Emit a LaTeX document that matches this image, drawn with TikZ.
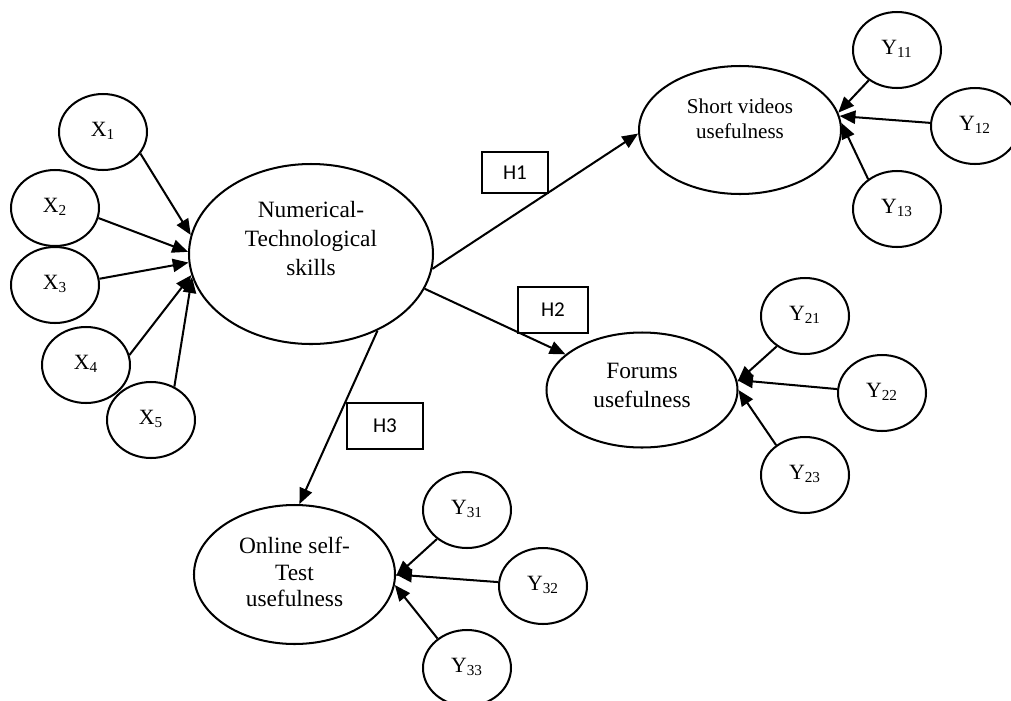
\documentclass[tikz,border=0pt]{standalone}
\usepackage{fontspec}
\setmainfont{Liberation Serif}
\newfontfamily\hypfont{Carlito}
\usetikzlibrary{shapes.geometric,arrows.meta}
\tikzstyle{construct}=[ellipse,draw,line width=1.15pt,align=center,inner sep=0pt,font=\fontsize{13.3}{16.4}\selectfont]
\tikzstyle{indicator}=[ellipse,draw,line width=1.15pt,minimum width=1.76cm,minimum height=1.52cm,inner sep=0pt,text depth=0.12cm,font=\fontsize{12.4}{14}\selectfont]
\tikzstyle{hyp}=[rectangle,draw,line width=1.15pt,inner sep=0pt,font={\hypfont\fontsize{12}{14}\selectfont}]
\tikzstyle{link}=[line width=1.15pt,-{Triangle[length=9pt,width=7.5pt]}]

\begin{document}
\begin{tikzpicture}
\useasboundingbox (0,0) rectangle (20.22,-14.02);
\node[construct, minimum width=4.88cm, minimum height=3.6cm, text depth=0.62cm] (skills) at (6.22,-5.08) {Numerical-\\Technological\\skills};
\node[construct, minimum width=4.04cm, minimum height=2.56cm, font=\fontsize{12}{14.2}\selectfont, text depth=0.46cm] (videos) at (14.8,-2.6) {Short videos\\usefulness};
\node[construct, minimum width=3.82cm, minimum height=2.3cm, text depth=0.2cm] (forums) at (12.84,-7.8) {Forums\\usefulness};
\node[construct, minimum width=4.02cm, minimum height=2.78cm, font=\fontsize{13.3}{15}\selectfont, text depth=0.1cm] (selftest) at (5.89,-11.49) {Online self-\\Test\\usefulness};

% measured items
\node[indicator] (x1) at (2.06,-2.64) {X\textsubscript{1}};
\node[indicator] (x2) at (1.1,-4.16) {X\textsubscript{2}};
\node[indicator] (x3) at (1.1,-5.7) {X\textsubscript{3}};
\node[indicator] (x4) at (1.72,-7.3) {X\textsubscript{4}};
\node[indicator] (x5) at (3.02,-8.4) {X\textsubscript{5}};
\node[indicator] (y11) at (17.94,-1.0) {Y\textsubscript{11}};
\node[indicator] (y12) at (19.5,-2.52) {Y\textsubscript{12}};
\node[indicator] (y13) at (17.94,-4.18) {Y\textsubscript{13}};
\node[indicator] (y21) at (16.1,-6.32) {Y\textsubscript{21}};
\node[indicator] (y22) at (17.64,-7.86) {Y\textsubscript{22}};
\node[indicator] (y23) at (16.1,-9.5) {Y\textsubscript{23}};
\node[indicator] (y31) at (9.34,-10.2) {Y\textsubscript{31}};
\node[indicator] (y32) at (10.86,-11.72) {Y\textsubscript{32}};
\node[indicator] (y33) at (9.34,-13.36) {Y\textsubscript{33}};

% hypotheses
\node[hyp, minimum width=1.32cm, minimum height=0.82cm] (h1) at (10.3,-3.45) {H1};
\node[hyp, minimum width=1.4cm, minimum height=0.92cm] (h2) at (11.06,-6.2) {H2};
\node[hyp, minimum width=1.52cm, minimum height=0.92cm] (h3) at (7.7,-8.52) {H3};

\draw[link] (x1.-30) -- (skills.171);
\draw[link] (x2.-13) -- (skills.179);
\draw[link] (x3.8) -- (skills.184);
\draw[link] (x4.13) -- (skills.190);
\draw[link] (x5.55) -- (skills.191);

\draw[link] (skills.-7) -- (videos.182);
\draw[link] (skills.-17) -- (forums.155);
\draw[link] (skills.-49) -- (selftest.86);

\draw[link] (y11.227) -- (videos.10);
\draw[link] (y12.176) -- (videos.8);
\draw[link] (y13.134) -- (videos.4);
\draw[link] (y21.227) -- (forums.5);
\draw[link] (y22.175) -- (forums.6);
\draw[link] (y23.134) -- (forums.0);
\draw[link] (y31.224) -- (selftest.-1);
\draw[link] (y32.175) -- (selftest.0);
\draw[link] (y33.135) -- (selftest.-6);
\end{tikzpicture}
\end{document}
